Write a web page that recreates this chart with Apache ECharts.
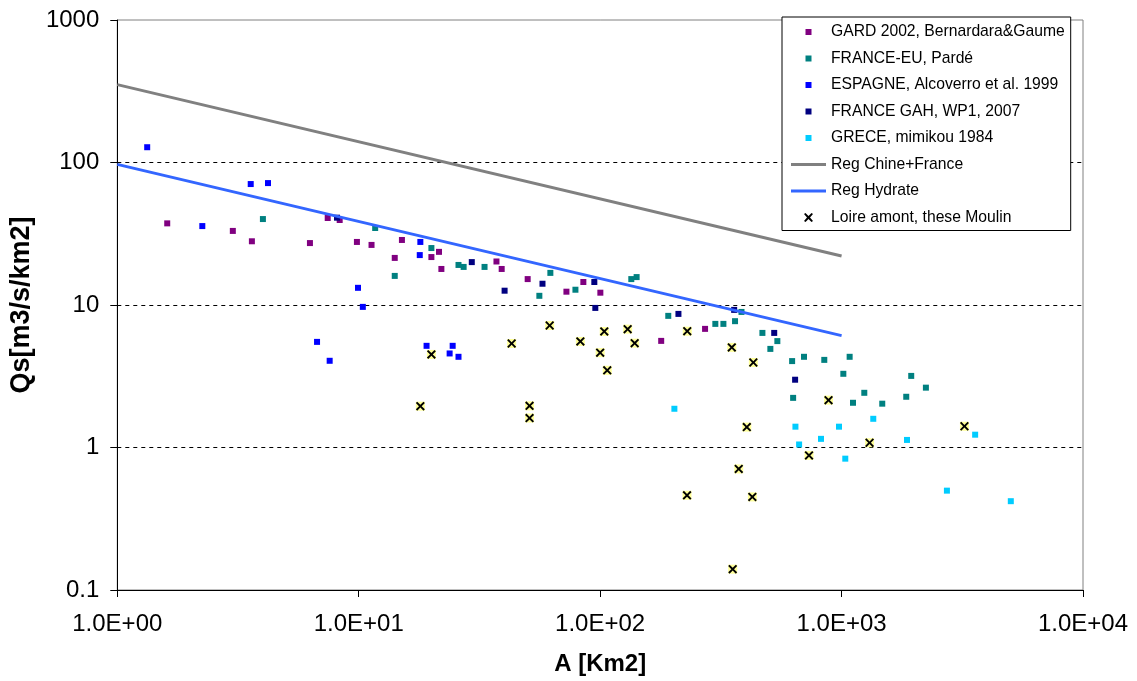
<!DOCTYPE html>
<html>
<head>
<meta charset="utf-8">
<title>Qs vs A</title>
<script src="https://cdn.jsdelivr.net/npm/echarts@6.0.0/dist/echarts.min.js"></script>
<style>
  html, body { margin: 0; padding: 0; background: #fff; }
  #chart { width: 1137px; height: 681px; }
</style>
</head>
<body>
<div id="chart"></div>
<script>
// [A (km2), Qs (m3/s/km2)] pairs
var gard = [
  [1.61, 37.4], [3.01, 33.1], [3.61, 28.0], [6.28, 27.2], [7.44, 40.8], [8.34, 39.5],
  [9.83, 27.7], [11.3, 26.4], [14.1, 21.4], [15.1, 28.6], [20.0, 21.7], [21.5, 23.6],
  [22.0, 17.9], [37.2, 20.2], [39.1, 17.9], [50.1, 15.2], [72.5, 12.4], [85.2, 14.5],
  [100.2, 12.2], [179, 5.6], [272, 6.8]
];
var franceEu = [
  [4.01, 40.1], [11.7, 34.7], [14.1, 16.0], [20.0, 25.1], [25.9, 19.1], [27.2, 18.5],
  [33.2, 18.5], [56.0, 11.6], [62.2, 16.8], [79.0, 12.8], [134.6, 15.2], [141.6, 15.7],
  [191.5, 8.39], [300, 7.37], [324, 7.37], [385, 8.94], [362, 7.70], [470, 6.37],
  [542, 5.58], [507, 4.92], [624, 4.04], [699, 4.33], [848, 4.12], [1080, 4.33],
  [1017, 3.29], [630, 2.23], [1943, 3.18], [2235, 2.63], [1242, 2.42], [1115, 2.06],
  [1474, 2.03], [1853, 2.27]
];
var espagne = [
  [1.33, 128], [3.57, 70.6], [4.21, 71.7], [2.25, 35.8], [9.93, 13.2], [10.4, 9.70],
  [6.72, 5.51], [7.58, 4.06], [18.0, 27.7], [17.9, 22.4], [19.1, 5.17], [24.5, 5.17],
  [23.8, 4.57], [25.9, 4.33]
];
var franceGah = [
  [8.13, 41.0], [29.4, 20.0], [40.2, 12.6], [57.7, 14.1], [94.6, 14.5], [95.5, 9.54],
  [211, 8.66], [359, 9.24], [526, 6.37], [642, 2.99]
];
var grece = [
  [203, 1.87], [644, 1.40], [976, 1.40], [822, 1.15], [667, 1.05], [1353, 1.59],
  [1866, 1.13], [1036, 0.835], [3575, 1.23], [2731, 0.498], [5023, 0.42]
];
var loire = [
  [20.0, 4.50], [43.0, 5.37], [61.8, 7.18], [82.8, 5.55], [104, 6.52], [100, 4.63],
  [107, 3.48], [18.0, 1.95], [51.0, 1.96], [51.0, 1.61], [130, 6.77], [139, 5.40],
  [229.5, 6.55], [351, 5.04], [431, 3.95], [883, 2.15], [405, 1.39], [1306, 1.08],
  [733, 0.88], [3228, 1.41], [375, 0.707], [229, 0.462], [427, 0.450], [354, 0.140]
];
// regression lines: end points
var regA = [1, 1000];
var regChineQ = [352, 22.1];
var regHydrateQ = [97, 6.1];

var yTickLabels = ['0.1', '1', '10', '100', '1000'];

var FONT = 'Liberation Sans, Arial, sans-serif';
// legend icons drawn inside a 35x14 box
var sqIcon = 'path://M0,0L0,0M35,14L35,14M14.5,4L20.5,4L20.5,10L14.5,10Z';
var lineIcon = 'path://M0,0L0,0M35,14L35,14M0,5.6L35,5.6L35,8.4L0,8.4Z';
var xIcon = 'path://M0,0L0,0M35,14L35,14M13,3.5L14.5,2.5L17.5,5.5L20.5,2.5L22,3.5L19,7L22,10.5L20.5,11.5L17.5,8.5L14.5,11.5L13,10.5L16,7Z';
var xSymbol = 'path://M1.5,0L5,3.5L8.5,0L10,1.5L6.5,5L10,8.5L8.5,10L5,6.5L1.5,10L0,8.5L3.5,5L0,1.5Z';

function pairs(xs, ys) {
  return xs.map(function (x, i) { return [x, ys[i]]; });
}

function squares(name, data, color) {
  return {
    name: name, type: 'scatter', data: data,
    symbol: 'rect', symbolSize: 6, z: 2,
    itemStyle: { color: color, opacity: 1 }
  };
}

var chart = echarts.init(document.getElementById('chart'));
chart.setOption({
  animation: false,
  backgroundColor: '#fff',
  grid: {
    left: 116, right: 54, top: 20, bottom: 90,
    show: true, borderColor: '#808080', borderWidth: 1, backgroundColor: 'transparent'
  },
  legend: {
    orient: 'vertical', left: 782, top: 17,
    padding: [7, 6, 5, 9],
    itemWidth: 35, itemHeight: 14, itemGap: 10.5,
    borderColor: '#000', borderWidth: 1, backgroundColor: '#fff',
    textStyle: { fontSize: 15.7, lineHeight: 16, color: '#000', fontFamily: FONT },
    data: [
      { name: 'GARD 2002, Bernardara&Gaume', icon: sqIcon },
      { name: 'FRANCE-EU, Pardé', icon: sqIcon },
      { name: 'ESPAGNE, Alcoverro et al. 1999', icon: sqIcon },
      { name: 'FRANCE GAH, WP1, 2007', icon: sqIcon },
      { name: 'GRECE, mimikou 1984', icon: sqIcon },
      { name: 'Reg Chine+France', icon: lineIcon },
      { name: 'Reg Hydrate', icon: lineIcon },
      { name: 'Loire amont, these Moulin', icon: xIcon }
    ]
  },
  xAxis: {
    type: 'log', logBase: 10, min: 1, max: 10000,
    name: 'A [Km2]', nameLocation: 'middle', nameGap: 62,
    nameTextStyle: { fontSize: 24, fontWeight: 'bold', color: '#000', fontFamily: FONT },
    axisLine: { lineStyle: { color: '#000', width: 1 } },
    axisTick: { length: 7, lineStyle: { color: '#000' } },
    axisLabel: {
      fontSize: 24, color: '#000', fontFamily: FONT, margin: 22,
      formatter: function (v) {
        var e = Math.round(Math.log10(v));
        return '1.0E+' + (e < 10 ? '0' : '') + e;
      }
    },
    splitLine: { show: false }
  },
  yAxis: {
    type: 'log', logBase: 10, min: 0.1, max: 1000,
    name: 'Qs[m3/s/km2]', nameLocation: 'middle', nameGap: 80,
    nameTextStyle: { fontSize: 27, fontWeight: 'bold', color: '#000', fontFamily: FONT },
    axisLine: { lineStyle: { color: '#000', width: 1 } },
    axisTick: { length: 7, lineStyle: { color: '#000' } },
    axisLabel: {
      fontSize: 24, color: '#000', fontFamily: FONT, margin: 18,
      formatter: function (v) {
        return yTickLabels[Math.round(Math.log10(v)) + 1];
      }
    },
    splitLine: {
      show: true, showMinLine: false, showMaxLine: false,
      lineStyle: { color: '#000', width: 1, type: [4, 4] }
    }
  },
  series: [
    squares('GARD 2002, Bernardara&Gaume', gard, '#800080'),
    squares('FRANCE-EU, Pardé', franceEu, '#008080'),
    squares('ESPAGNE, Alcoverro et al. 1999', espagne, '#0000FF'),
    squares('FRANCE GAH, WP1, 2007', franceGah, '#000080'),
    squares('GRECE, mimikou 1984', grece, '#00CCFF'),
    {
      name: 'Reg Chine+France', type: 'line', data: pairs(regA, regChineQ),
      symbol: 'none', z: 3,
      lineStyle: { color: '#808080', width: 3 }, itemStyle: { color: '#808080' }
    },
    {
      name: 'Reg Hydrate', type: 'line', data: pairs(regA, regHydrateQ),
      symbol: 'none', z: 3,
      lineStyle: { color: '#3366FF', width: 3 }, itemStyle: { color: '#3366FF' }
    },
    {
      name: 'loireBg', type: 'scatter', data: loire,
      symbol: 'rect', symbolSize: 9, z: 4, silent: true,
      itemStyle: { color: '#FFFF99', opacity: 1 }
    },
    {
      name: 'Loire amont, these Moulin', type: 'scatter', data: loire,
      symbol: xSymbol, symbolSize: 9, z: 5,
      itemStyle: { color: '#000', opacity: 1 }
    }
  ]
});
</script>
</body>
</html>
